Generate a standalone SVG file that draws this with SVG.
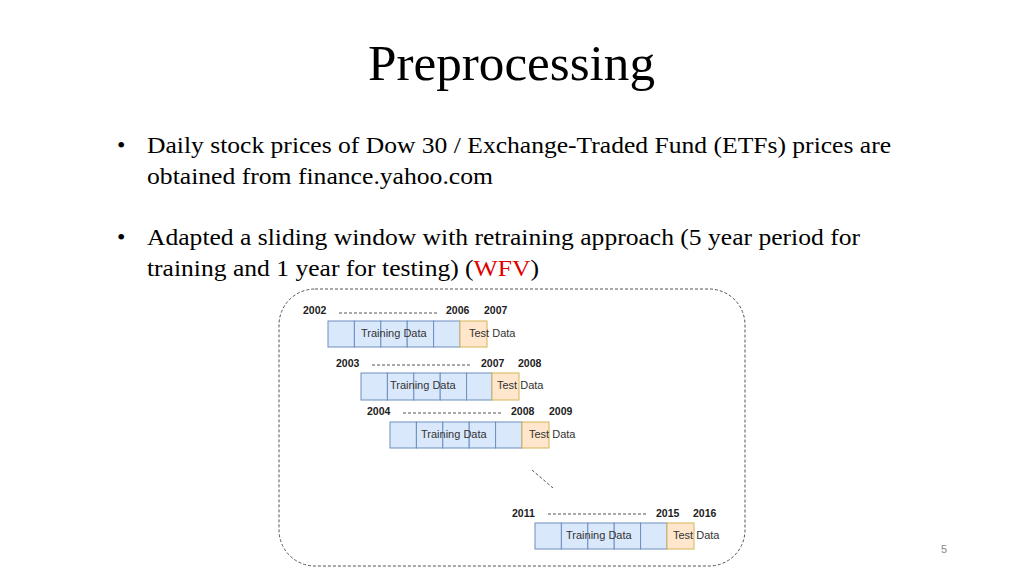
<svg xmlns="http://www.w3.org/2000/svg" width="1024" height="576" viewBox="0 0 1024 576">
<style>
.t{font-family:"Liberation Serif",serif;fill:#000}
.b{font-size:24px}
.y{font-family:"Liberation Sans",Arial,sans-serif;font-size:10.5px;font-weight:bold;fill:#222}
.l{font-family:"Liberation Sans",Arial,sans-serif;font-size:11px;fill:#333}
.c{fill:#dae8fc;stroke:#6c8ebf;stroke-width:1}
.o{fill:#ffe6cc;stroke:#d6b656;stroke-width:1}
.d{stroke:#555;stroke-width:1;stroke-dasharray:3,2;fill:none}
</style>
<rect width="1024" height="576" fill="#fff"/>
<text class="t" x="368" y="80" font-size="51" textLength="287" lengthAdjust="spacingAndGlyphs">Preprocessing</text>
<g class="t b">
<text x="117" y="153">•</text>
<text x="147" y="153" textLength="744" lengthAdjust="spacingAndGlyphs">Daily stock prices of Dow 30 / Exchange-Traded Fund (ETFs) prices are</text>
<text x="147" y="184" textLength="346" lengthAdjust="spacingAndGlyphs">obtained from finance.yahoo.com</text>
<text x="117" y="245">•</text>
<text x="147" y="245" textLength="713" lengthAdjust="spacingAndGlyphs">Adapted a sliding window with retraining approach (5 year period for</text>
<text x="147" y="276" textLength="392" lengthAdjust="spacingAndGlyphs">training and 1 year for testing) (<tspan fill="#e00000">WFV</tspan>)</text>
</g>
<rect id="container" x="279" y="289" width="466" height="277" rx="36" class="d" stroke-dasharray="2,2"/>
<g id="connectors">
<line class="d" x1="339" y1="313" x2="437" y2="313"/>
<line class="d" x1="372" y1="365" x2="470" y2="365"/>
<line class="d" x1="403" y1="413" x2="501" y2="413"/>
<line class="d" x1="548" y1="514" x2="646" y2="514"/>
<line class="d" x1="532" y1="470" x2="553" y2="488"/>
</g>
<g id="row1">
<rect class="c" x="328" y="321" width="26.4" height="26"/><rect class="c" x="354.4" y="321" width="26.4" height="26"/><rect class="c" x="380.8" y="321" width="26.4" height="26"/><rect class="c" x="407.2" y="321" width="26.4" height="26"/><rect class="c" x="433.6" y="321" width="26.4" height="26"/><rect class="o" x="460" y="321" width="27" height="26"/>
<text class="l" x="361" y="337">Training Data</text><text class="l" x="469" y="337">Test Data</text>
<text class="y" x="303" y="314">2002</text><text class="y" x="446" y="314">2006</text><text class="y" x="484" y="314">2007</text>
</g>
<g id="row2">
<rect class="c" x="361" y="373" width="26.4" height="27"/><rect class="c" x="387.4" y="373" width="26.4" height="27"/><rect class="c" x="413.8" y="373" width="26.4" height="27"/><rect class="c" x="440.2" y="373" width="26.4" height="27"/><rect class="c" x="466.6" y="373" width="25.4" height="27"/><rect class="o" x="492" y="373" width="27" height="27"/>
<text class="l" x="390" y="389">Training Data</text><text class="l" x="497" y="389">Test Data</text>
<text class="y" x="336" y="367">2003</text><text class="y" x="481" y="367">2007</text><text class="y" x="518" y="367">2008</text>
</g>
<g id="row3">
<rect class="c" x="390" y="422" width="26.4" height="26"/><rect class="c" x="416.4" y="422" width="26.4" height="26"/><rect class="c" x="442.8" y="422" width="26.4" height="26"/><rect class="c" x="469.2" y="422" width="26.4" height="26"/><rect class="c" x="495.6" y="422" width="26.4" height="26"/><rect class="o" x="522" y="422" width="27" height="26"/>
<text class="l" x="421" y="438">Training Data</text><text class="l" x="529" y="438">Test Data</text>
<text class="y" x="367" y="415">2004</text><text class="y" x="511" y="415">2008</text><text class="y" x="549" y="415">2009</text>
</g>
<g id="row4">
<rect class="c" x="535" y="523" width="26.4" height="26"/><rect class="c" x="561.4" y="523" width="26.4" height="26"/><rect class="c" x="587.8" y="523" width="26.4" height="26"/><rect class="c" x="614.2" y="523" width="26.4" height="26"/><rect class="c" x="640.6" y="523" width="26.4" height="26"/><rect class="o" x="667" y="523" width="27" height="26"/>
<text class="l" x="566" y="539">Training Data</text><text class="l" x="673" y="539">Test Data</text>
<text class="y" x="512" y="517">2011</text><text class="y" x="656" y="517">2015</text><text class="y" x="693" y="517">2016</text>
</g>
<text x="941" y="553" font-family="Liberation Sans,sans-serif" font-size="11" fill="#888">5</text>
</svg>
